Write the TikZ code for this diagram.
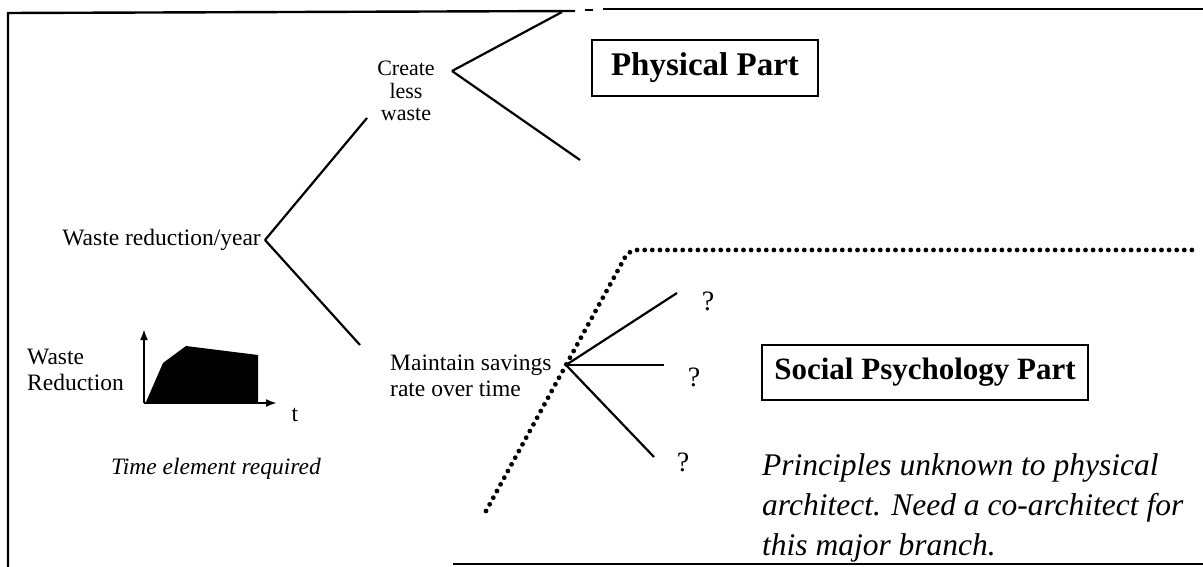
\documentclass[tikz,border=0pt]{standalone}
\usepackage{fontspec}
\setmainfont{Liberation Serif}
\usetikzlibrary{arrows.meta}
\begin{document}
\begin{tikzpicture}[x=1pt,y=-1pt,
  lbl/.style={font=\fontsize{23.5}{26}\selectfont, inner sep=0pt},
  ilbl/.style={font=\itshape\fontsize{23.5}{26}\selectfont, inner sep=0pt},
  branch/.style={line width=2.2pt},
  frameline/.style={line width=2.4pt},
  partbox/.style={draw, line width=1.8pt, font=\bfseries\fontsize{31}{34}\selectfont, inner xsep=12pt, inner ysep=13pt},
  note/.style={font=\itshape\fontsize{31.5}{40}\selectfont, align=left, inner sep=0pt},
  qmark/.style={font=\fontsize{28}{28}\selectfont, inner sep=0pt},
  dotline/.style={line width=4.8pt, line cap=round, dash pattern=on 0pt off 7.6pt},
  axisarrow/.style={line width=2pt, -{Latex[length=11pt,width=8pt]}},
]
\useasboundingbox (0,0) rectangle (1203,567);

% outer frame (open at the right and partly at the bottom)
\draw[frameline] (8,567) -- (8,13) -- (575,11);
\draw[frameline] (585,10) -- (593,10);
\draw[frameline] (603,9) -- (1203,9);
\draw[frameline] (453,564) -- (1203,564);

% goal tree
\node[lbl, anchor=east] (wry) at (261,240) {Waste reduction/year};
\coordinate (j0) at (265,240);
\node[lbl, align=center, font=\fontsize{22}{22.5}\selectfont] (cl) at (406,91) {Create\\less\\waste};
\coordinate (j1) at (452,71);
\coordinate (a1) at (367,118);
\coordinate (a2) at (360,345);
\coordinate (t1) at (562,12);
\coordinate (t2) at (580,160);
\draw[branch] (j0) -- (a1);
\draw[branch] (j0) -- (a2);
\draw[branch] (j1) -- (t1);
\draw[branch] (j1) -- (t2);

\node[lbl, align=left, anchor=west] (ms) at (390,376) {Maintain savings\\rate over time};
\coordinate (j2) at (566,365);
\coordinate (b1) at (677,293);
\coordinate (b2) at (664,365);
\coordinate (b3) at (654,457);
\draw[branch] (j2) -- (b1);
\draw[branch] (j2) -- (b2);
\draw[branch] (j2) -- (b3);
\node[qmark] (q1) at (708,301) {?};
\node[qmark] (q2) at (694,377) {?};
\node[qmark] (q3) at (683,462) {?};

% boundary between the two parts
\coordinate (d0) at (486,511);
\coordinate (d1) at (629,250);
\coordinate (d2) at (1197,250);
\draw[dotline, rounded corners=8pt] (d0) -- (d1) -- (d2);

\node[partbox, font=\bfseries\fontsize{33}{36}\selectfont, inner xsep=19pt, inner ysep=13pt] (pp) at (705,68) {Physical Part};
\node[partbox] (sp) at (925,372.5) {Social Psychology Part};
\node[note, anchor=north west] (nt) at (762,453) {Principles unknown to physical\\architect. Need a co-architect for\\this major branch.};

% time profile sketch
\node[lbl, align=left, anchor=west] (wr) at (27,370) {Waste\\Reduction};
\coordinate (o) at (144,403);
\coordinate (ytip) at (144,329);
\coordinate (xtip) at (277,403);
\fill (146,402) -- (163,363) -- (186,346) -- (258,355) -- (258,402) -- cycle;
\draw[axisarrow] (o) -- (ytip);
\draw[axisarrow] (o) -- (xtip);
\node[lbl] (tl) at (295,415) {t};
\node[ilbl] (te) at (216,469) {Time element required};
\end{tikzpicture}
\end{document}
